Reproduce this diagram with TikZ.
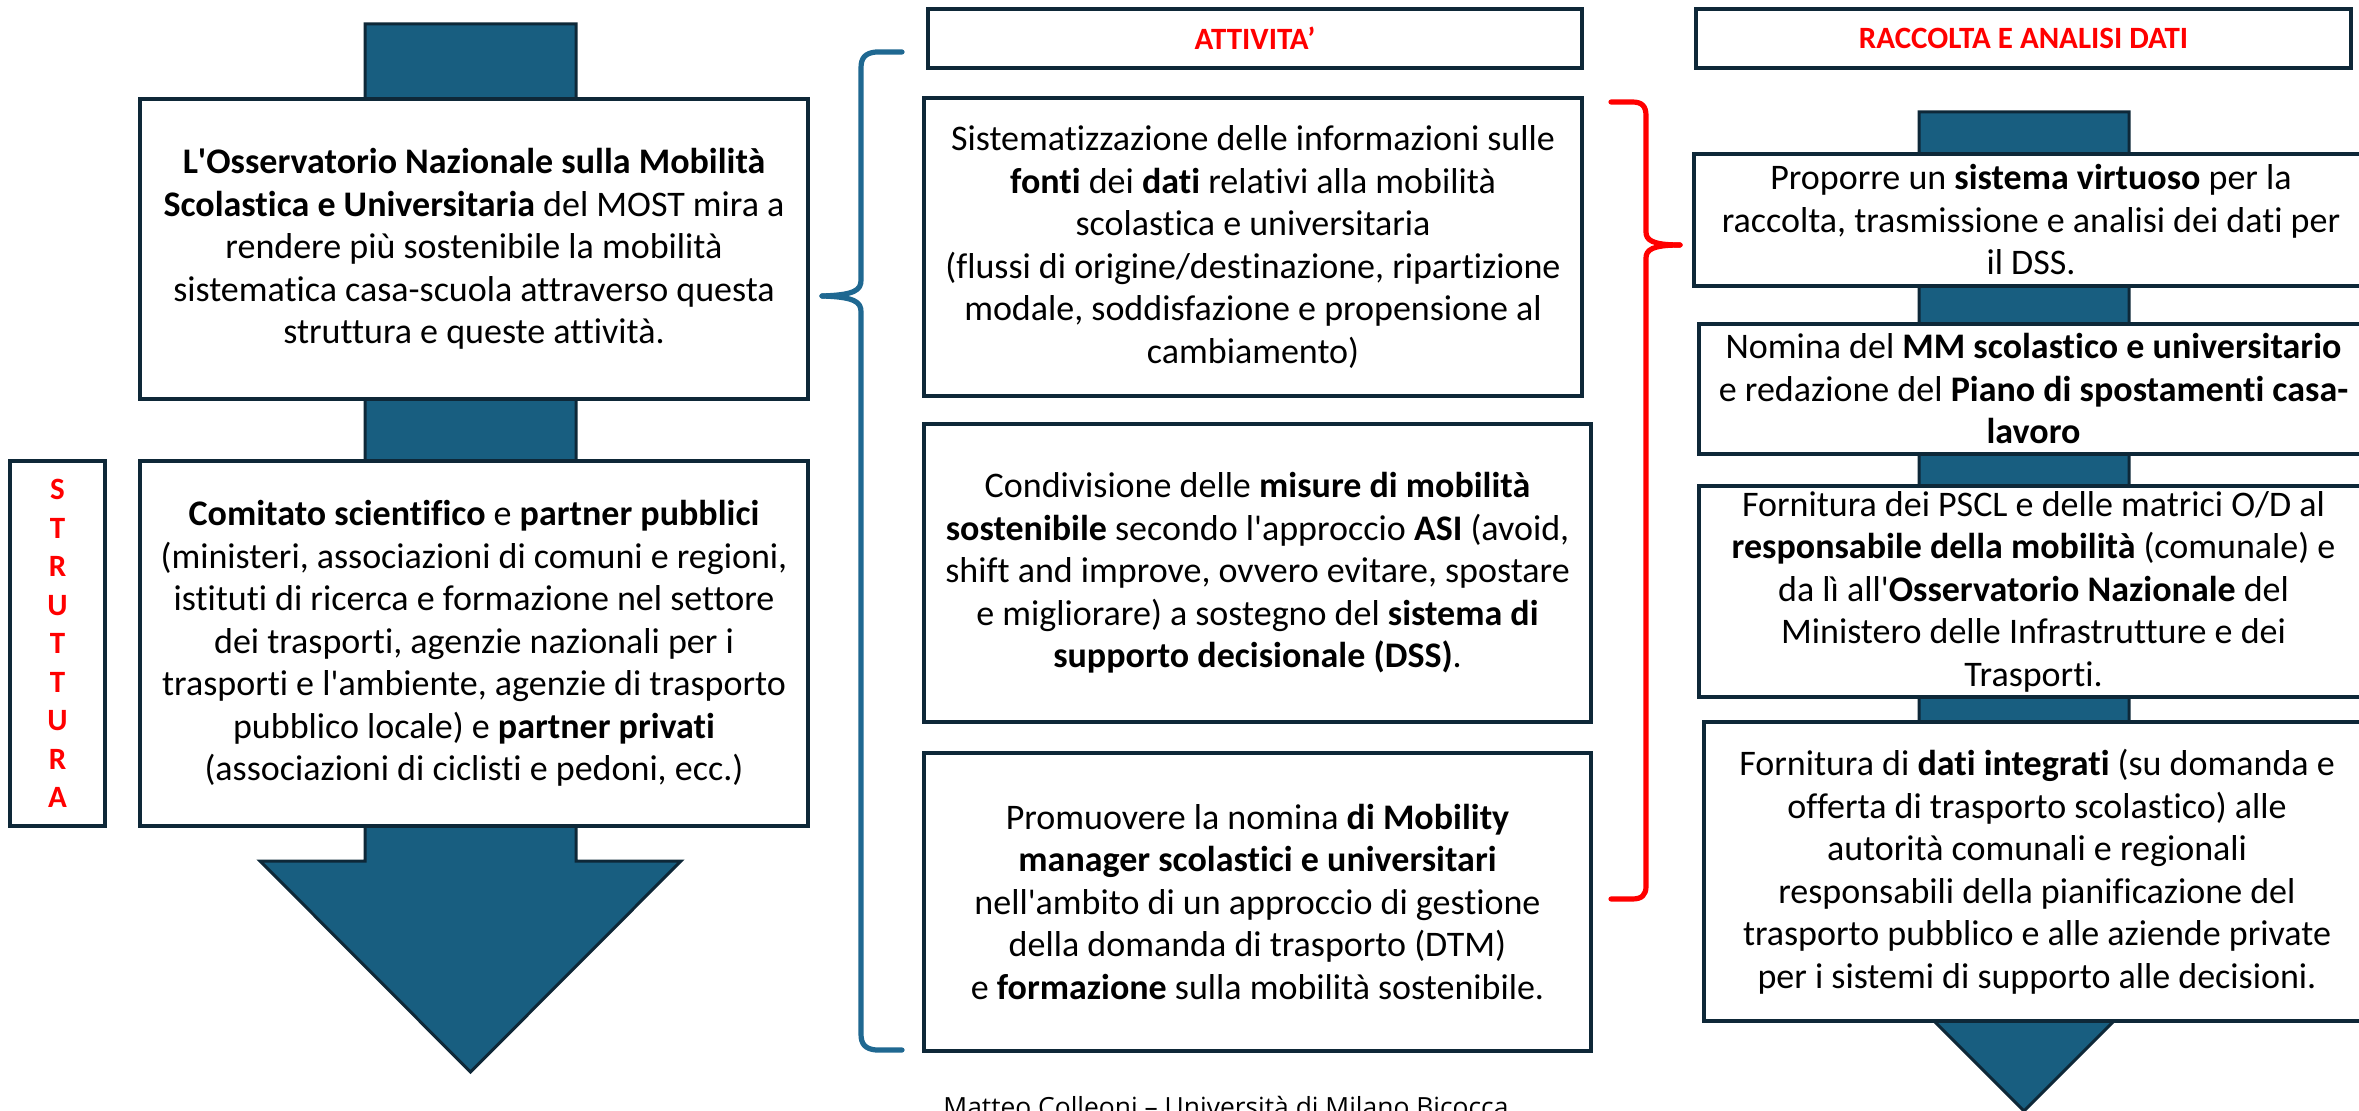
\documentclass[tikz,border=0pt]{standalone}
\usepackage{fontspec}
\setmainfont{Carlito}[Ligatures=NoCommon]
\newfontfamily\footfont{Open Sans}
\definecolor{tealfill}{RGB}{24,94,128}
\definecolor{boxline}{RGB}{14,40,56}
\definecolor{braceblue}{RGB}{31,104,145}
\definecolor{hdred}{RGB}{255,0,0}
\newcommand\mybody{\fontsize{18}{21.25}\selectfont}
\newcommand\myhead{\fontsize{15.5}{18}\selectfont\bfseries\color{hdred}}
\newcommand\apo{\textquotesingle}
\begin{document}
\begin{tikzpicture}[x=0.5pt,y=-0.5pt,
  box/.style={draw=boxline, line width=2pt, fill=white, inner sep=0pt, align=center, font=\mybody},
  headbox/.style={draw=boxline, line width=2pt, fill=white, inner sep=0pt, align=center, font=\myhead},
  bigarrow/.style={fill=tealfill, draw=boxline, line width=1.5pt, line join=miter},
  bracepath/.style={line width=2.6pt, line cap=round, line join=round}]
\useasboundingbox (0,0) rectangle (2359,1111);
\fill[white] (0,0) rectangle (2359,1111);

% block arrows behind the boxes
\draw[bigarrow] (365,24) -- (576,24) -- (576,861) -- (681,861) -- (470.5,1072) -- (260,861) -- (365,861) -- cycle;
\draw[bigarrow] (1919,112) -- (2129,112) -- (2129,901) -- (2234,901) -- (2024,1111) -- (1814,901) -- (1919,901) -- cycle;

% left column
\node[box, minimum width=334pt, minimum height=150pt] (obs) at (474,249) {%
\textbf{L\apo Osservatorio Nazionale sulla Mobilità}\\
\textbf{Scolastica e Universitaria} del MOST mira a\\
rendere più sostenibile la mobilità\\
sistematica casa-scuola attraverso questa\\
struttura e queste attività.};
\node[box, minimum width=334pt, minimum height=182.5pt] (comitato) at (474,643.5) {%
\textbf{Comitato scientifico} e \textbf{partner pubblici}\\
(ministeri, associazioni di comuni e regioni,\\
istituti di ricerca e formazione nel settore\\
dei trasporti, agenzie nazionali per i\\
trasporti e l\apo ambiente, agenzie di trasporto\\
pubblico locale) e \textbf{partner privati}\\
(associazioni di ciclisti e pedoni, ecc.)};
\node[headbox, minimum width=47.5pt, minimum height=182.5pt, font=\fontsize{15.5}{19.25}\selectfont\bfseries\color{hdred}] (strut) at (57.5,643.5) {S\\T\\R\\U\\T\\T\\U\\R\\A};

% headers
\node[headbox, minimum width=327pt, minimum height=29.5pt] (hatt) at (1255,38.5) {ATTIVITA’};
\node[headbox, minimum width=327.5pt, minimum height=29.5pt] (hrac) at (2023.5,38.5) {RACCOLTA E ANALISI DATI};

% middle column
\node[box, minimum width=329pt, minimum height=149pt] (a1) at (1253,247) {%
Sistematizzazione delle informazioni sulle\\
\textbf{fonti} dei \textbf{dati} relativi alla mobilità\\
scolastica e universitaria\\
(flussi di origine/destinazione, ripartizione\\
modale, soddisfazione e propensione al\\
cambiamento)};
\node[box, minimum width=333.5pt, minimum height=149pt] (a2) at (1257.5,573) {%
Condivisione delle \textbf{misure di mobilità}\\
\textbf{sostenibile} secondo l\apo approccio \textbf{ASI} (avoid,\\
shift and improve, ovvero evitare, spostare\\
e migliorare) a sostegno del \textbf{sistema di}\\
\textbf{supporto decisionale (DSS)}.};
\node[box, minimum width=333.5pt, minimum height=149pt] (a3) at (1257.5,902) {%
Promuovere la nomina \textbf{di Mobility}\\
\textbf{manager scolastici e universitari}\\
nell\apo ambito di un approccio di gestione\\
della domanda di trasporto (DTM)\\
e \textbf{formazione} sulla mobilità sostenibile.};

% right column
\node[box, minimum width=337pt, minimum height=66pt] (r1) at (2031,220) {%
Proporre un \textbf{sistema virtuoso} per la\\
raccolta, trasmissione e analisi dei dati per\\
il DSS.};
\node[box, minimum width=334.5pt, minimum height=65pt] (r2) at (2033.5,389) {%
Nomina del \textbf{MM scolastico e universitario}\\
e redazione del \textbf{Piano di spostamenti casa-}\\
\textbf{lavoro}};
\node[box, minimum width=334.5pt, minimum height=105.5pt] (r3) at (2033.5,591.5) {%
Fornitura dei PSCL e delle matrici O/D al\\
\textbf{responsabile della mobilità} (comunale) e\\
da lì all\apo\textbf{Osservatorio Nazionale} del\\
Ministero delle Infrastrutture e dei\\
Trasporti.};
\node[box, minimum width=333pt, minimum height=149.5pt] (r4) at (2037,871.5) {%
Fornitura di \textbf{dati integrati} (su domanda e\\
offerta di trasporto scolastico) alle\\
autorità comunali e regionali\\
responsabili della pianificazione del\\
trasporto pubblico e alle aziende private\\
per i sistemi di supporto alle decisioni.};

% braces
\draw[bracepath, braceblue] (902,52) -- (876,52) .. controls (865,53) and (861,58) .. (861,68) -- (861,280) .. controls (861,290) and (855,295) .. (822,296);
\draw[bracepath, braceblue] (822,296) .. controls (855,297) and (861,302) .. (861,312) -- (861,1034) .. controls (861,1044) and (865,1049) .. (876,1050) -- (902,1050);
\draw[bracepath, hdred] (1611,102) -- (1632,102) .. controls (1642,102) and (1646,106) .. (1646,116) -- (1646,232) .. controls (1646,240) and (1652,245) .. (1680,245);
\draw[bracepath, hdred] (1680,245) .. controls (1652,245) and (1646,250) .. (1646,258) -- (1646,886) .. controls (1646,895) and (1642,899) .. (1632,899) -- (1611,899);

% footer
\node[anchor=base west, inner sep=0pt, font=\footfont\fontsize{13.2}{15}\selectfont] (footer) at (943,1116) {Matteo Colleoni – Università di Milano Bicocca};
\end{tikzpicture}
\end{document}
